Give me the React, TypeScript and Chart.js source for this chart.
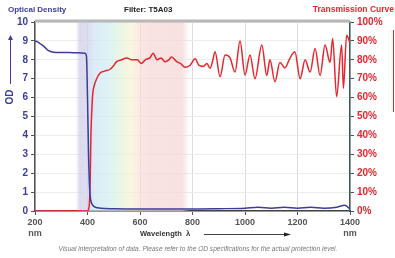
import React, { useEffect, useRef } from "react";
import { Chart, registerables } from "chart.js";

Chart.register(...registerables);

const odWavelengths = [200, 210, 220, 235, 250, 270, 300, 330, 360, 390, 396, 400, 404, 408, 412, 416, 420, 430, 450, 500, 600, 700, 800, 900, 1000, 1050, 1100, 1150, 1200, 1250, 1300, 1350, 1380, 1400];
const odValues = [9.0, 8.95, 8.85, 8.7, 8.5, 8.4, 8.38, 8.38, 8.37, 8.35, 8.2, 6, 3, 1.2, 0.6, 0.4, 0.3, 0.2, 0.15, 0.12, 0.1, 0.1, 0.1, 0.12, 0.15, 0.2, 0.15, 0.2, 0.15, 0.2, 0.15, 0.2, 0.3, 0.1];

const trWavelengths = [200, 400, 406, 410, 413, 416, 420, 425, 435, 448, 465, 486, 500, 511, 530, 549, 570, 590, 605, 620, 638, 650, 665, 680, 695, 710, 720, 740, 755, 771, 790, 810, 825, 841, 855, 867, 876, 886, 905, 924, 943, 962, 981, 1000, 1019, 1038, 1064, 1083, 1095, 1114, 1133, 1152, 1171, 1190, 1210, 1229, 1248, 1267, 1286, 1305, 1324, 1334, 1349, 1368, 1375, 1387, 1400];
const trValues = [0, 0, 2, 15, 40, 52, 62, 66, 70, 73, 74, 75, 77, 79, 80, 81, 80, 80, 78, 80, 81, 83.5, 80, 81, 79, 80, 81.5, 79, 78, 76, 77, 80.5, 77, 76.5, 78, 75.5, 79, 84.3, 71, 82.5, 81, 73.5, 90, 72, 82.5, 70, 87.8, 71.7, 80, 68.4, 78.6, 75.7, 80.8, 84.3, 70, 80, 73.5, 86, 71.7, 87.8, 78.6, 91.3, 60.5, 87.8, 65, 93, 89];

const xTicks = [200, 400, 600, 800, 1000, 1200, 1400];
const odTicks = [0, 1, 2, 3, 4, 5, 6, 7, 8, 9, 10];
const trTicks = [0, 10, 20, 30, 40, 50, 60, 70, 80, 90, 100];

const titleLeft = "Optical Density";
const titleMid = "Filter: T5A03";
const titleRight = "Transmission Curve";
const axisTitleY = "OD";
const axisTitleX = "Wavelength";
const footnote = "Visual interpretation of data. Please refer to the OD specifications for the actual protection level.";

const BLUE = "#3c3c9c";
const RED = "#e5262e";
const FONT = "'Liberation Sans', Arial, sans-serif";

const spectrumPlugin = {
  id: "spectrum",
  beforeDatasetsDraw(chart: any) {
    const { ctx, chartArea, scales } = chart;
    const x0 = scales.x.getPixelForValue(355);
    const x1 = scales.x.getPixelForValue(790);
    const g = ctx.createLinearGradient(x0, 0, x1, 0);
    const stops: [number, string][] = [
      [355, "rgba(215,205,235,0)"],
      [370, "rgba(208,202,230,0.7)"],
      [400, "rgba(205,208,235,0.7)"],
      [430, "rgba(205,228,245,0.7)"],
      [480, "rgba(208,238,242,0.7)"],
      [530, "rgba(228,242,215,0.7)"],
      [570, "rgba(248,242,210,0.7)"],
      [600, "rgba(248,222,218,0.7)"],
      [640, "rgba(246,214,214,0.7)"],
      [760, "rgba(245,212,212,0.7)"],
      [790, "rgba(246,218,218,0)"],
    ];
    for (const [nm, c] of stops) g.addColorStop((nm - 355) / (790 - 355), c);
    ctx.save();
    ctx.fillStyle = g;
    ctx.fillRect(x0, chartArea.top, x1 - x0, chartArea.bottom - chartArea.top);
    ctx.restore();
  },
};

const textPlugin = {
  id: "texts",
  afterDraw(chart: any) {
    const { ctx, chartArea } = chart;
    ctx.save();
    ctx.strokeStyle = "#b8b8b8";
    ctx.lineWidth = 3;
    ctx.beginPath();
    ctx.moveTo(chartArea.left, chartArea.top - 1);
    ctx.lineTo(chartArea.right, chartArea.top - 1);
    ctx.stroke();

    ctx.textBaseline = "middle";
    ctx.font = `bold 8px ${FONT}`;
    ctx.fillStyle = BLUE;
    ctx.textAlign = "left";
    ctx.fillText(titleLeft, 8, 10);
    ctx.fillStyle = "#222";
    ctx.fillText(titleMid, 124, 10);
    ctx.font = `bold 8.5px ${FONT}`;
    ctx.fillStyle = RED;
    ctx.textAlign = "right";
    ctx.fillText(titleRight, 394, 10);

    ctx.strokeStyle = BLUE;
    ctx.fillStyle = BLUE;
    ctx.lineWidth = 1;
    ctx.beginPath();
    ctx.moveTo(10.5, 38);
    ctx.lineTo(10.5, 84);
    ctx.stroke();
    ctx.beginPath();
    ctx.moveTo(10.5, 35);
    ctx.lineTo(8, 40);
    ctx.lineTo(13, 40);
    ctx.closePath();
    ctx.fill();
    ctx.save();
    ctx.translate(10, 97);
    ctx.rotate(-Math.PI / 2);
    ctx.font = `bold 10px ${FONT}`;
    ctx.textAlign = "center";
    ctx.fillText(axisTitleY, 0, 0);
    ctx.restore();

    ctx.strokeStyle = RED;
    ctx.beginPath();
    ctx.moveTo(393.5, 30);
    ctx.lineTo(393.5, 112);
    ctx.stroke();

    ctx.fillStyle = "#333";
    ctx.font = `bold 7.5px ${FONT}`;
    ctx.textAlign = "left";
    ctx.fillText(axisTitleX + "  \u03bb", 140, 234);
    ctx.strokeStyle = "#444";
    ctx.beginPath();
    ctx.moveTo(204, 234.5);
    ctx.lineTo(286, 234.5);
    ctx.stroke();
    ctx.fillStyle = "#222";
    ctx.beginPath();
    ctx.moveTo(291, 234.5);
    ctx.lineTo(284, 232.5);
    ctx.lineTo(284, 236.5);
    ctx.closePath();
    ctx.fill();

    ctx.fillStyle = "#777";
    ctx.font = `italic 6.6px ${FONT}`;
    ctx.textAlign = "center";
    ctx.fillText(footnote, 198, 249);
    ctx.restore();
  },
};

export default function App() {
  const ref = useRef<HTMLCanvasElement | null>(null);
  useEffect(() => {
    if (!ref.current) return;
    const chart = new Chart(ref.current, {
      type: "line",
      data: {
        datasets: [
          {
            label: "OD",
            data: odWavelengths.map((x, i) => ({ x, y: odValues[i] })),
            borderColor: BLUE,
            borderWidth: 1.5,
            pointRadius: 0,
            cubicInterpolationMode: "monotone",
            yAxisID: "y",
          },
          {
            label: "Transmission",
            data: trWavelengths.map((x, i) => ({ x, y: trValues[i] })),
            borderColor: RED,
            borderWidth: 1.5,
            pointRadius: 0,
            cubicInterpolationMode: "monotone",
            yAxisID: "y1",
          },
        ],
      } as any,
      options: {
        animation: false,
        responsive: true,
        maintainAspectRatio: false,
        layout: { padding: { top: 22, left: 0, right: 0, bottom: 0 } },
        plugins: { legend: { display: false }, tooltip: { enabled: false } },
        scales: {
          x: {
            type: "linear",
            min: 200,
            max: 1400,
            afterBuildTicks: (s: any) => {
              s.ticks = xTicks.map((v) => ({ value: v }));
            },
            afterFit: (s: any) => {
              s.height = 47;
            },
            ticks: {
              color: "#555",
              font: { family: FONT, size: 9, weight: "bold" },
              padding: 2,
              maxRotation: 0,
              autoSkip: false,
              callback: (v: any) => (v === 200 || v === 1400 ? [String(v), "nm"] : String(v)),
            },
            grid: { color: "#dcdcdc", tickLength: 4, tickColor: "#555" },
            border: { color: "#444", width: 1.5 },
          },
          y: {
            position: "left",
            min: 0,
            max: 10,
            afterBuildTicks: (s: any) => {
              s.ticks = odTicks.map((v) => ({ value: v }));
            },
            afterFit: (s: any) => {
              s.width = 35;
            },
            ticks: {
              color: BLUE,
              font: { family: FONT, size: 10, weight: "bold" },
              padding: 3,
            },
            grid: { color: "#ececec", tickLength: 4, tickColor: "#555" },
            border: { color: "#555", width: 1.5 },
          },
          y1: {
            position: "right",
            min: 0,
            max: 100,
            afterBuildTicks: (s: any) => {
              s.ticks = trTicks.map((v) => ({ value: v }));
            },
            afterFit: (s: any) => {
              s.width = 45;
            },
            ticks: {
              color: RED,
              font: { family: FONT, size: 10, weight: "bold" },
              padding: 3,
              callback: (v: any) => v + "%",
            },
            grid: { drawOnChartArea: false, tickLength: 4, tickColor: "#3c5a5a" },
            border: { color: "#3c5a5a", width: 1.5 },
          },
        },
      } as any,
      plugins: [spectrumPlugin, textPlugin],
    });
    return () => chart.destroy();
  }, []);
  return (
    <div style={{ position: "fixed", left: 0, top: 0, width: 395, height: 258, background: "#fff" }}>
      <canvas ref={ref} />
    </div>
  );
}
